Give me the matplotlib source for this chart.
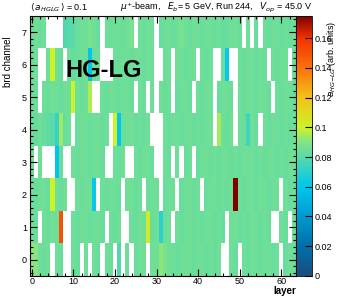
import numpy as np
import matplotlib
matplotlib.use("Agg")
import matplotlib.pyplot as plt
from matplotlib.colors import LinearSegmentedColormap
from matplotlib.ticker import MultipleLocator

plt.rcParams['font.family'] = ['Liberation Sans', 'DejaVu Sans']

N = np.nan
layers = np.arange(64)
channels = np.arange(8)

# a_HG-LG per board channel, in units of 1e-3 (NaN = no entry)
ch0 = [92, 91, 85, 84, 86, N, 85, 84, N, N, 85, 84, N, 85, N, 85,
       84, N, 85, 84, N, 78, N, 85, N, 84, 85, 86, N, 85, 86, 92,
       88, 86, 85, 84, 85, 86, 85, 84, 85, 86, 84, 85, 84, 86, N, N,
       85, 84, N, 85, 84, 86, 85, 84, 85, 86, 84, 85, N, 84, 85, 84]
ch1 = [85, 84, N, 85, 84, 86, 85, 150, N, N, 85, 84, 86, 85, 84, 85,
       86, 84, N, 85, 84, 86, N, N, 85, 84, 86, 85, 104, 84, 85, 70,
       84, 85, N, 86, 84, 85, 86, 84, 85, 84, 85, 86, 84, 85, 84, N,
       85, 86, 84, 85, 84, 86, 85, 84, 85, 84, N, N, 85, 84, N, 85]
ch2 = [85, 84, 85, 86, 84, 100, 85, 84, 86, N, N, 85, 84, 86, 85, 62,
       N, 85, 84, 86, 85, 84, N, 85, 86, 84, 85, N, 84, 85, 86, N,
       84, 85, 86, N, 84, 85, 86, 84, 85, N, 84, 85, 86, 84, 85, 84,
       86, 175, 85, 84, 86, 85, 84, 86, 85, 84, 85, 86, N, 85, 84, 85]
ch3 = [85, N, 85, N, N, N, 60, 84, N, N, 85, 84, 86, 85, 84, 85,
       86, 84, N, N, 85, 84, 86, N, N, 85, 84, 86, 85, 84, N, N,
       85, 84, N, 85, N, 84, 85, N, 84, 85, 86, 84, 85, 84, 85, 86,
       84, 85, 84, 85, 86, 85, 84, 85, 84, 86, 85, 84, 85, 84, 85, 86]
ch4 = [84, 83, 85, 84, 82, 80, 72, 94, 84, 85, N, 84, 86, 85, 84, 85,
       86, 84, 85, N, 100, 60, 84, 85, 86, 84, 85, 84, 86, N, N, N,
       85, 84, 86, 85, 84, 85, 86, 84, 85, 84, 85, 86, N, 95, 85, 84,
       86, N, 85, 84, 75, 85, 84, N, 85, 84, 86, 85, 84, 85, 84, 85]
ch5 = [85, 84, N, 85, 84, 86, 85, 84, 86, 85, 100, 85, 84, 86, 96, N,
       N, 85, 84, 86, 85, 84, 85, 86, 84, N, 85, 84, N, 85, N, 86,
       84, 85, N, 84, 85, 86, 84, N, 85, 84, 86, 85, N, 84, 85, 86,
       84, N, 85, 84, 86, 85, 84, 86, 85, 84, N, 85, 84, 86, 85, 84]
ch6 = [84, 85, N, N, 85, 100, 86, 84, N, 85, 83, 84, 86, 85, 60, 84,
       85, N, N, N, 85, 84, 86, 85, 84, 86, 85, 84, 86, 85, N, N,
       84, 85, N, 86, 85, 84, 85, 86, N, 85, 84, 85, N, N, 84, 62,
       N, N, 85, 84, 86, 85, 84, 85, 84, N, 85, 84, 86, 85, N, 84]
ch7 = [84, 86, 84, 85, N, N, N, N, 78, 79, 80, 84, 86, 85, 88, 86,
       84, N, 85, 84, 86, 85, 84, 86, 88, N, 85, 84, 86, 85, N, 84,
       85, 86, 84, 85, 87, 85, 84, 86, 85, 84, 85, 86, 84, 85, 83, 84,
       85, 86, 84, N, 85, N, 84, N, 85, 84, 86, 85, 84, 85, 84, 85]

a_hglg = np.array([ch0, ch1, ch2, ch3, ch4, ch5, ch6, ch7], dtype=float) / 1000.0

# colour palette
cmap = LinearSegmentedColormap.from_list("hglg", [
    (0.000, (0.10, 0.30, 0.50)),
    (0.114, (0.00, 0.44, 0.66)),
    (0.228, (0.00, 0.60, 0.82)),
    (0.343, (0.00, 0.78, 0.93)),
    (0.457, (0.35, 0.85, 0.66)),
    (0.520, (0.52, 0.90, 0.52)),
    (0.571, (0.80, 0.95, 0.15)),
    (0.686, (0.95, 0.76, 0.10)),
    (0.800, (0.98, 0.45, 0.05)),
    (0.914, (0.95, 0.20, 0.00)),
    (1.000, (0.50, 0.00, 0.00)),
])
cmap.set_bad("white")

fig = plt.figure(figsize=(3.37, 2.96), dpi=100)
ax = fig.add_axes([0.088, 0.068, 0.790, 0.878])
cax = fig.add_axes([0.878, 0.068, 0.048, 0.878])

edges_x = np.append(layers, 64) - 0.5
edges_y = np.append(channels, 8) - 0.5
mesh = ax.pcolormesh(edges_x, edges_y, np.ma.masked_invalid(a_hglg),
                     cmap=cmap, vmin=0, vmax=0.175)

ax.set_xlim(-0.5, 63.5)
ax.set_ylim(-0.5, 7.5)
ax.xaxis.set_major_locator(MultipleLocator(10))
ax.xaxis.set_minor_locator(MultipleLocator(2))
ax.yaxis.set_major_locator(MultipleLocator(1))
ax.yaxis.set_minor_locator(MultipleLocator(0.2))
ax.tick_params(which="both", direction="in", top=True, right=True,
               labelsize=6.5, width=0.8, pad=2)
ax.tick_params(axis="x", pad=1)
ax.tick_params(which="major", length=5)
ax.tick_params(which="minor", length=2.5)

# ROOT-style axis titles at the far end of each axis
ax.set_xlabel("layer", fontsize=7, fontweight="bold")
ax.xaxis.set_label_coords(1.0, -0.077)
ax.xaxis.label.set_ha("right")
ax.xaxis.label.set_va("bottom")
ax.set_ylabel("brd channel", fontsize=7)
ax.yaxis.set_label_coords(-0.062, 0.92)
ax.yaxis.label.set_ha("right")

cb = fig.colorbar(mesh, cax=cax, ticks=np.arange(0, 0.17, 0.02))
cb.outline.set_linewidth(0.6)
cax.tick_params(direction="in", length=5, width=0.8, labelsize=6.5, pad=2)
cax.set_yticklabels(["0", "0.02", "0.04", "0.06", "0.08", "0.1",
                     "0.12", "0.14", "0.16"])
fig.text(0.985, 0.93, r"$a_{HG\mathrm{-}LG}$ (arb. units)", rotation=90,
         ha="center", va="top", fontsize=6.5)

fig.text(0.09, 0.975, r"$\langle\, a_{HGLG} \,\rangle$ = 0.1", fontsize=6.5,
         ha="left", va="center")
fig.text(0.925, 0.975, r"$\mu^{+}$-beam,   $E_{b}$= 5 GeV, Run 244,   $V_{op}$ = 45.0 V",
         fontsize=6.5, ha="right", va="center")

ax.text(0.135, 0.79, "HG-LG", transform=ax.transAxes, fontsize=17,
        fontweight="bold", color="black", ha="left", va="center")

fig.savefig("out.png", dpi=100)
